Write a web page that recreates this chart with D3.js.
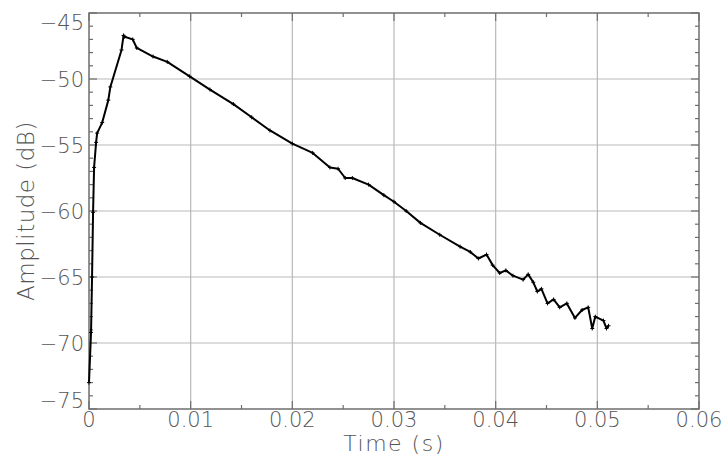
<!DOCTYPE html>
<html>
<head>
<meta charset="utf-8">
<script src="https://cdn.jsdelivr.net/npm/d3@7"></script>
<style>
  body { margin: 0; background: #fff; }
  text { font-family: "DejaVu Sans", sans-serif; font-weight: 200; fill: #555; }
</style>
</head>
<body>
<svg width="724" height="455"></svg>
<script>
const times = [0, 0.0002, 0.0003, 0.0004, 0.0005, 0.0007, 0.0008, 0.0013, 0.0019, 0.0021, 0.0032, 0.0034,
  0.0035, 0.0043, 0.0047, 0.0063, 0.0077, 0.0099, 0.0119, 0.0142, 0.0160, 0.0178, 0.0200, 0.0220, 0.0237,
  0.0245, 0.0252, 0.0259, 0.0275, 0.0290, 0.0300, 0.0312, 0.0326, 0.0345, 0.0365, 0.0375, 0.0383, 0.0391,
  0.0397, 0.0404, 0.0410, 0.0417, 0.0427, 0.0432, 0.0437, 0.0441, 0.0445, 0.0451, 0.0457, 0.0463, 0.0470,
  0.0478, 0.0485, 0.0491, 0.0495, 0.0498, 0.0506, 0.0509, 0.0511];
const amps = [-73.0, -69.2, -65.0, -60.1, -56.7, -54.8, -54.1, -53.3, -51.6, -50.6, -47.8, -46.7,
  -46.8, -47.0, -47.65, -48.3, -48.7, -49.8, -50.8, -51.9, -52.9, -53.9, -54.9, -55.6, -56.7,
  -56.8, -57.5, -57.5, -58.0, -58.8, -59.3, -60.0, -60.9, -61.8, -62.7, -63.1, -63.6, -63.3,
  -64.1, -64.7, -64.5, -64.9, -65.2, -64.8, -65.4, -66.1, -65.9, -67.0, -66.7, -67.3, -67.0,
  -68.1, -67.5, -67.3, -68.9, -68.0, -68.3, -68.9, -68.7];

const xMajor = [0, 0.01, 0.02, 0.03, 0.04, 0.05, 0.06];
const xLabels = ["0", "0.01", "0.02", "0.03", "0.04", "0.05", "0.06"];
const yMajor = [-75, -70, -65, -60, -55, -50, -45];

const svg = d3.select("svg");
const pLeft = 89, pRight = 699, pTop = 13, pBottom = 409;

const x = d3.scaleLinear().domain([0, 0.06]).range([pLeft, pRight]);
const y = d3.scaleLinear().domain([-75, -45]).range([pBottom, pTop]);

const axisColor = "#6e6e6e";
const gridColor = "#b9b9b9";

// grid
svg.append("g").selectAll("line")
  .data(xMajor.slice(1, -1))
  .join("line")
  .attr("x1", d => x(d)).attr("x2", d => x(d))
  .attr("y1", pTop).attr("y2", pBottom)
  .attr("stroke", gridColor).attr("stroke-width", 1.2);

svg.append("g").selectAll("line")
  .data(yMajor.slice(1, -1))
  .join("line")
  .attr("x1", pLeft).attr("x2", pRight)
  .attr("y1", d => y(d)).attr("y2", d => y(d))
  .attr("stroke", gridColor).attr("stroke-width", 1.2);

// ticks on all four sides, pointing inward
const xMinor = d3.range(0, 13).map(i => i * 0.005);
const yMinor = d3.range(-75, -44);

function xTicks(yBase, dir) {
  svg.append("g").selectAll("line")
    .data(xMinor)
    .join("line")
    .attr("x1", d => x(d)).attr("x2", d => x(d))
    .attr("y1", yBase)
    .attr("y2", (d, i) => yBase + dir * (i % 2 === 0 ? 8 : 4))
    .attr("stroke", axisColor).attr("stroke-width", 1.2);
}
function yTicks(xBase, dir) {
  svg.append("g").selectAll("line")
    .data(yMinor)
    .join("line")
    .attr("y1", d => y(d)).attr("y2", d => y(d))
    .attr("x1", xBase)
    .attr("x2", d => xBase + dir * (d % 5 === 0 ? 8 : 4))
    .attr("stroke", axisColor).attr("stroke-width", 1.2);
}
xTicks(pBottom, -1);
xTicks(pTop, 1);
yTicks(pLeft, 1);
yTicks(pRight, -1);

svg.append("rect")
  .attr("x", pLeft).attr("y", pTop)
  .attr("width", pRight - pLeft).attr("height", pBottom - pTop)
  .attr("fill", "none").attr("stroke", axisColor).attr("stroke-width", 1.5);

// tick labels
svg.append("g").selectAll("text")
  .data(xMajor)
  .join("text")
  .attr("x", d => x(d))
  .attr("y", 427)
  .attr("text-anchor", "middle")
  .style("font-size", "21px")
  .text((d, i) => xLabels[i]);

svg.append("g").selectAll("text")
  .data(yMajor)
  .join("text")
  .attr("x", 84)
  .attr("y", d => d === -45 ? y(d) + 17 : (d === -75 ? y(d) - 1 : y(d) + 8))
  .attr("text-anchor", "end")
  .style("font-size", "21px")
  .text(d => "\u2212" + Math.abs(d));

// axis titles
svg.append("text")
  .attr("x", (pLeft + pRight) / 2)
  .attr("y", 451)
  .attr("text-anchor", "middle")
  .style("font-size", "22px")
  .style("letter-spacing", "1.5px")
  .text("Time (s)");

svg.append("text")
  .attr("transform", `translate(34, ${(pTop + pBottom) / 2}) rotate(-90)`)
  .attr("text-anchor", "middle")
  .style("font-size", "23px")
  .style("letter-spacing", "0.5px")
  .text("Amplitude (dB)");

// curve
const pts = times.map((t, i) => [t, amps[i]]);
svg.append("path")
  .datum(pts)
  .attr("fill", "none")
  .attr("stroke", "#000")
  .attr("stroke-width", 2)
  .attr("stroke-linejoin", "round")
  .attr("d", d3.line().x(d => x(d[0])).y(d => y(d[1])));

svg.append("g").selectAll("path")
  .data(pts)
  .join("path")
  .attr("transform", d => `translate(${x(d[0])},${y(d[1])})`)
  .attr("d", "M-2,0H2M0,-2V2")
  .attr("stroke", "#000")
  .attr("stroke-width", 1);
</script>
</body>
</html>
